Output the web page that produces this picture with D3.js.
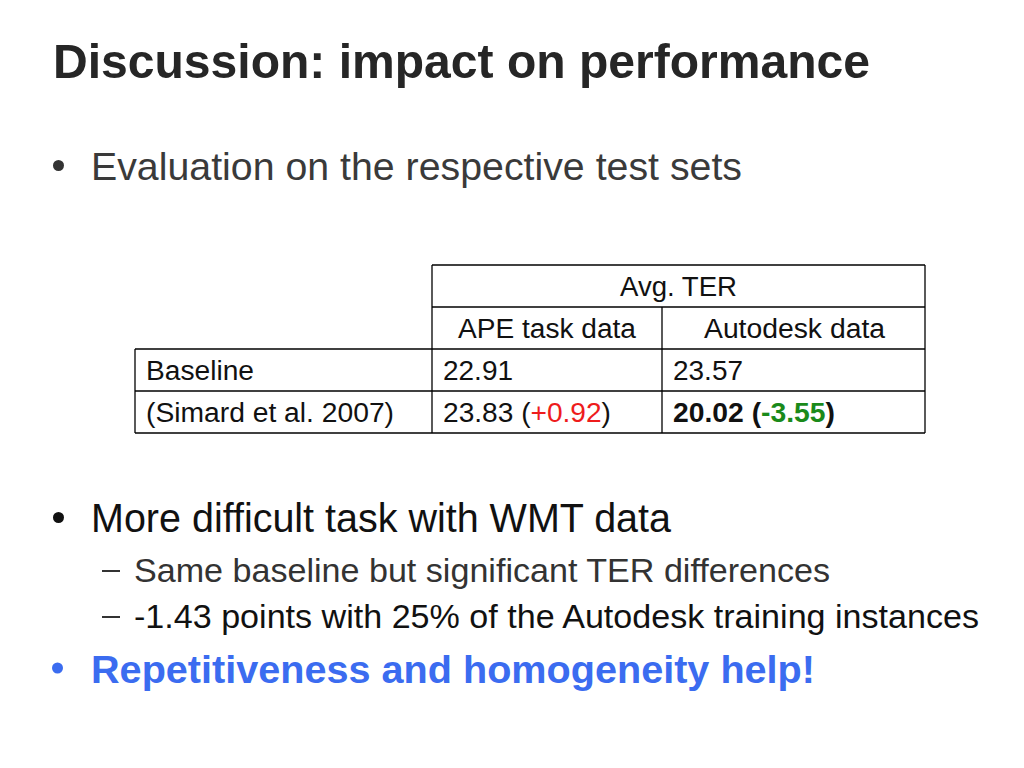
<!DOCTYPE html>
<html>
<head>
<meta charset="utf-8">
<script src="https://cdn.jsdelivr.net/npm/d3@7"></script>
<style>
  html, body { margin: 0; padding: 0; background: #fff; }
  svg { display: block; font-family: "Liberation Sans", Arial, Helvetica, sans-serif; }
</style>
</head>
<body>
<script>
// ---- data ----
const title = "Discussion: impact on performance";
const bullet1 = "Evaluation on the respective test sets";
const groupHeader = "Avg. TER";
const columnLabels = ["APE task data", "Autodesk data"];
const rowLabels = ["Baseline", "(Simard et al. 2007)"];
const apeValues = [22.91, 23.83];
const autodeskValues = [23.57, 20.02];
const apeDelta = [null, 0.92];
const autodeskDelta = [null, -3.55];
const bullet2 = "More difficult task with WMT data";
const subBullets = ["Same baseline but significant TER differences", "-1.43 points with 25% of the Autodesk training instances"];
const bullet3 = "Repetitiveness and homogeneity help!";

// ---- drawing ----
const W = 1024, H = 768;
const svg = d3.select("body").append("svg").attr("width", W).attr("height", H);

function fitText(sel, targetWidth) {
  sel.attr("textLength", targetWidth).attr("lengthAdjust", "spacingAndGlyphs");
  return sel;
}

// title
fitText(svg.append("text").attr("x", 53).attr("y", 78)
  .attr("font-size", 48).attr("font-weight", "bold").attr("fill", "#262626")
  .text(title), 817);

// bullet 1
svg.append("circle").attr("cx", 58.5).attr("cy", 165.5).attr("r", 5.5).attr("fill", "#333");
fitText(svg.append("text").attr("x", 91).attr("y", 180)
  .attr("font-size", 38.5).attr("fill", "#3a3a3a").text(bullet1), 651);

// table via scales
const colX = d3.scaleOrdinal().domain(["label", "ape", "autodesk", "end"]).range([135, 432, 662, 925]);
const rowY = d3.scaleBand().domain(["h1", "h2", "r0", "r1"]).range([265, 433]);
const rh = rowY.bandwidth();
const g = svg.append("g").attr("stroke", "#000").attr("stroke-width", 1.3);

const lines = [
  [colX("ape"), rowY("h1"), colX("end"), rowY("h1")],
  [colX("ape"), rowY("h1"), colX("ape"), rowY("r1") + rh],
  [colX("end"), rowY("h1"), colX("end"), rowY("r1") + rh],
  [colX("ape"), rowY("h2"), colX("end"), rowY("h2")],
  [colX("autodesk"), rowY("h2"), colX("autodesk"), rowY("r1") + rh],
  [colX("label"), rowY("r0"), colX("end"), rowY("r0")],
  [colX("label"), rowY("r1"), colX("end"), rowY("r1")],
  [colX("label"), rowY("r1") + rh, colX("end"), rowY("r1") + rh],
  [colX("label"), rowY("r0"), colX("label"), rowY("r1") + rh]
];
g.selectAll("line").data(lines).join("line")
  .attr("x1", d => d[0]).attr("y1", d => d[1]).attr("x2", d => d[2]).attr("y2", d => d[3]);

const tfs = 27;
const base = rh * 0.73;
const tcol = "#111";
fitText(svg.append("text").attr("x", 620).attr("y", rowY("h1") + base)
  .attr("font-size", tfs).attr("fill", tcol).text(groupHeader), 117);
const colLabelX = [458, 704];
const colLabelW = [178, 181];
columnLabels.forEach((d, i) => {
  fitText(svg.append("text").attr("x", colLabelX[i]).attr("y", rowY("h2") + base)
    .attr("font-size", tfs).attr("fill", tcol).text(d), colLabelW[i]);
});

const rowKeys = ["r0", "r1"];
const rowLabelW = [108, 248];
rowLabels.forEach((lab, i) => {
  const y = rowY(rowKeys[i]) + base;
  fitText(svg.append("text").attr("x", colX("label") + 11).attr("y", y).attr("font-size", tfs).attr("fill", tcol).text(lab), rowLabelW[i]);
  // APE cell
  const t1 = svg.append("text").attr("x", colX("ape") + 11).attr("y", y).attr("font-size", tfs).attr("fill", tcol);
  t1.append("tspan").text(apeValues[i].toFixed(2));
  if (apeDelta[i] !== null) {
    t1.append("tspan").text(" (");
    t1.append("tspan").attr("fill", apeDelta[i] > 0 ? "#ee1c1c" : "#1a8a1a")
      .text((apeDelta[i] > 0 ? "+" : "") + apeDelta[i].toFixed(2));
    t1.append("tspan").text(")");
    fitText(t1, 168);
  } else fitText(t1, 70);
  // Autodesk cell
  const t2 = svg.append("text").attr("x", colX("autodesk") + 11).attr("y", y).attr("font-size", tfs).attr("fill", tcol);
  const best = autodeskDelta[i] !== null && autodeskDelta[i] < 0;
  if (best) t2.attr("font-weight", "bold");
  t2.append("tspan").text(autodeskValues[i].toFixed(2));
  if (autodeskDelta[i] !== null) {
    t2.append("tspan").text(" (");
    t2.append("tspan").attr("fill", autodeskDelta[i] > 0 ? "#ee1c1c" : "#1a8a1a")
      .text((autodeskDelta[i] > 0 ? "+" : "") + autodeskDelta[i].toFixed(2));
    t2.append("tspan").text(")");
    fitText(t2, 162);
  } else fitText(t2, 70);
});

// bullet 2
svg.append("circle").attr("cx", 58.5).attr("cy", 517.5).attr("r", 5.5).attr("fill", "#111");
fitText(svg.append("text").attr("x", 91).attr("y", 532)
  .attr("font-size", 40).attr("fill", "#111").text(bullet2), 580);

// sub bullets
const subY = [582, 628];
const subW = [696, 845];
subBullets.forEach((s, i) => {
  svg.append("rect").attr("x", 102).attr("y", subY[i] - 12).attr("width", 18).attr("height", 2).attr("fill", "#333");
  fitText(svg.append("text").attr("x", 134).attr("y", subY[i])
    .attr("font-size", 34).attr("fill", i === 1 ? "#111" : "#333").text(s), subW[i]);
});

// bullet 3
svg.append("circle").attr("cx", 57.5).attr("cy", 668).attr("r", 5.5).attr("fill", "#3b6cf0");
fitText(svg.append("text").attr("x", 91).attr("y", 683)
  .attr("font-size", 38.5).attr("font-weight", "bold").attr("fill", "#3b6cf0").text(bullet3), 724);
</script>
</body>
</html>
